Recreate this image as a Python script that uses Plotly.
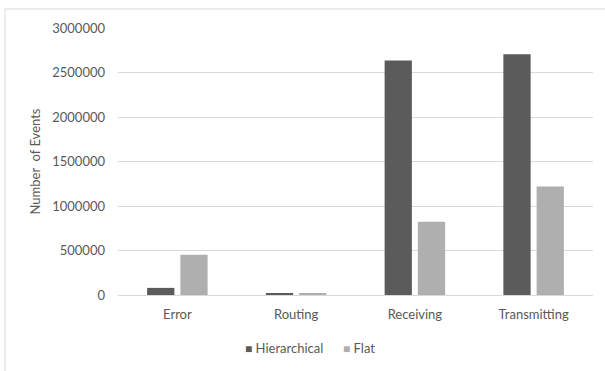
import plotly.graph_objects as go

categories = ["Error", "Routing", "Receiving", "Transmitting"]
hierarchical = [80000, 20000, 2634000, 2706000]
flat = [452000, 15000, 823000, 1219000]
y_ticks = [0, 500000, 1000000, 1500000, 2000000, 2500000, 3000000]

DARK = "#5b5b5b"
LIGHT = "#afafaf"
TEXT = "#595959"
FONT = "Lato"

fig = go.Figure()
fig.add_trace(go.Bar(x=categories, y=hierarchical, name="Hierarchical",
                     marker=dict(color=DARK, line=dict(width=0)), showlegend=False))
fig.add_trace(go.Bar(x=categories, y=flat, name="Flat",
                     marker=dict(color=LIGHT, line=dict(width=0)), showlegend=False))

W, H = 605, 371
ml, mr, mt, mb = 118, 12, 28, 76
pw, ph = W - ml - mr, H - mt - mb

def px_x(x):
    return (x - ml) / pw

def px_y(y):
    return (H - mb - y) / ph

# legend drawn as text entries with coloured square glyphs
legend_y = px_y(348)
fig.add_annotation(x=px_x(243), y=legend_y, xref="paper", yref="paper",
                   xanchor="left", yanchor="middle", showarrow=False,
                   text=f'<span style="color:{DARK};font-size:12px">■</span> Hierarchical',
                   font=dict(family=FONT, size=13, color=TEXT))
fig.add_annotation(x=px_x(341), y=legend_y, xref="paper", yref="paper",
                   xanchor="left", yanchor="middle", showarrow=False,
                   text=f'<span style="color:{LIGHT};font-size:12px">■</span> Flat',
                   font=dict(family=FONT, size=13, color=TEXT))

# chart-area border
fig.add_shape(type="rect", xref="paper", yref="paper",
              x0=px_x(5), x1=px_x(640), y0=px_y(400), y1=px_y(9),
              line=dict(color="#d9d9d9", width=1), fillcolor="rgba(0,0,0,0)",
              layer="below")

fig.update_layout(
    width=W, height=H,
    margin=dict(l=ml, r=mr, t=mt, b=mb, pad=0),
    paper_bgcolor="white", plot_bgcolor="white",
    barmode="group", bargap=0.44, bargroupgap=0.18,
    font=dict(family=FONT, size=13, color=TEXT),
    xaxis=dict(showgrid=False, showline=True, linecolor="#d9d9d9", linewidth=1,
               ticks="", tickfont=dict(size=13, color=TEXT), ticklabelstandoff=7),
    yaxis=dict(range=[0, 3000000], tickvals=y_ticks,
               ticktext=[str(v) for v in y_ticks],
               showgrid=True, gridcolor="#d9d9d9", gridwidth=1,
               zeroline=False, showline=False, ticks="",
               tickfont=dict(size=13, color=TEXT), ticklabelstandoff=12,
               title=dict(text="Number&nbsp; of Events", standoff=8,
                          font=dict(size=13, color=TEXT))),
    showlegend=False,
)

fig.write_html("out.html")
